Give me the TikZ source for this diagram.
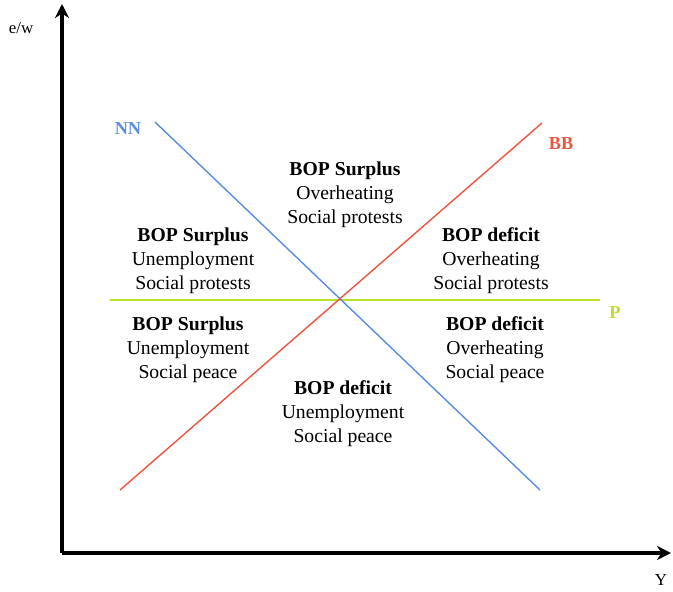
\documentclass[tikz,border=0pt]{standalone}
\usepackage{fontspec}
\setmainfont{Liberation Serif}
\usepackage{tikz}
\usetikzlibrary{arrows.meta}
\definecolor{nnblue}{RGB}{90,140,225}
\definecolor{bbred}{RGB}{235,85,65}
\definecolor{pgreen}{RGB}{185,225,40}
\tikzset{
	% ---- default
	every path/.style={line width=0.3pt},
	every node/.style={font=\fontsize{14}{17}\selectfont},
	% ---- custom
	axis/.style={line width=2.8pt, -{Stealth[length=10pt,width=10pt]}},
	curve/.style={line width=1pt},
	region/.style={align=center},
	curve label/.style={font=\fontsize{13}{15}\selectfont\bfseries},
}

\begin{document}
\begin{tikzpicture}[x=0.025cm, y=-0.025cm]

\useasboundingbox (0,0) rectangle (673,592);

% coordinates %{{{2

	\coordinate (O) at (62,553);
	\coordinate (Ytop) at (62,4);
	\coordinate (Xend) at (671,553);
	\coordinate (NN1) at (155,122);
	\coordinate (NN2) at (540,490);
	\coordinate (BB1) at (120,490);
	\coordinate (BB2) at (542,123);
	\coordinate (P1) at (110,300);
	\coordinate (P2) at (600,300);

% axes %{{{2

	\draw[axis] (O) -- (Ytop);
	\draw[axis] (O) -- (Xend);

% curves %{{{2

	\draw[curve, pgreen] (P1) -- (P2);
	\draw[curve, nnblue] (NN1) -- (NN2);
	\draw[curve, bbred] (BB1) -- (BB2);

% axis and curve labels %{{{2

	\node[font=\fontsize{12}{14}\selectfont] (ew) at (21,28) {e/w};
	\node[font=\fontsize{12}{14}\selectfont] (Y) at (661,580) {Y};
	\node[curve label, nnblue] (NN) at (128,129) {NN};
	\node[curve label, bbred] (BB) at (561,144) {BB};
	\node[curve label, pgreen] (P) at (615,313) {P};

% regions %{{{2

	\node[region] (top) at (345,195)
		{\textbf{BOP Surplus}\\Overheating\\Social protests};
	\node[region] (upleft) at (193,261)
		{\textbf{BOP Surplus}\\Unemployment\\Social protests};
	\node[region] (upright) at (491,261)
		{\textbf{BOP deficit}\\Overheating\\Social protests};
	\node[region] (lowleft) at (188,350)
		{\textbf{BOP Surplus}\\Unemployment\\Social peace};
	\node[region] (lowright) at (495,350)
		{\textbf{BOP deficit}\\Overheating\\Social peace};
	\node[region] (bottom) at (343,414)
		{\textbf{BOP deficit}\\Unemployment\\Social peace};

% closing %{{{2

\end{tikzpicture}
\end{document}
